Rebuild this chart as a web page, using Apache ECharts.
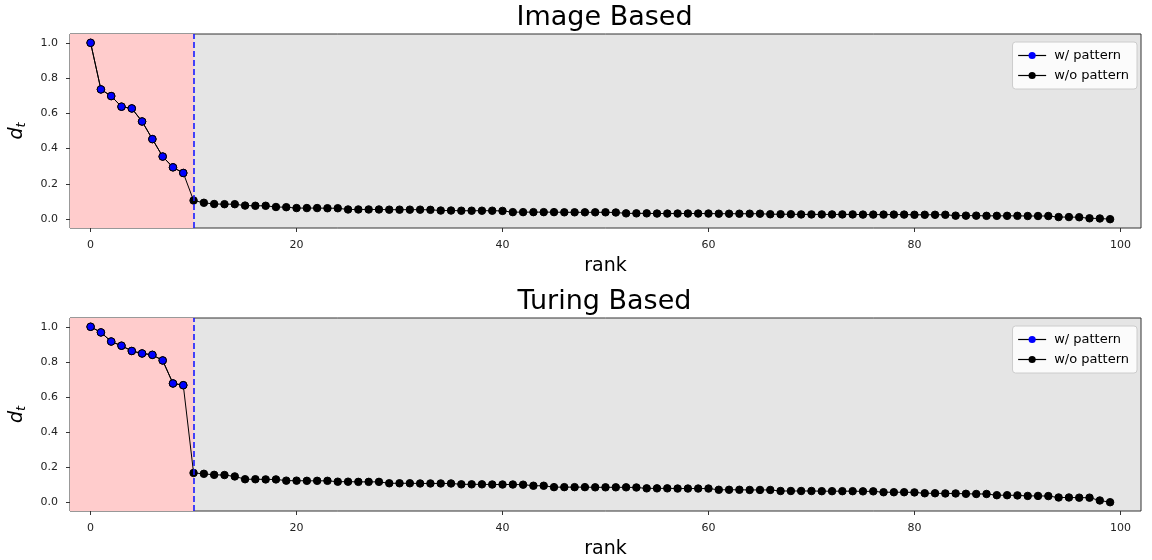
<!DOCTYPE html>
<html><head><meta charset="utf-8">
<script src="https://cdn.jsdelivr.net/npm/echarts@6/dist/echarts.min.js"></script>
<style>html,body{margin:0;padding:0;background:#fff}#c{width:1152px;height:560px}</style>
</head><body><div id="c"></div>
<script>
// ---- data ----
const titles = ['Image Based', 'Turing Based'];
const seriesNames = ['w/ pattern', 'w/o pattern'];
const patternCount = 10;   // ranks 0..9 are "w/ pattern"
const cutoffRank = 10;     // dashed blue line
const xTicks = [0, 20, 40, 60, 80, 100];
const yTicks = [0, 0.2, 0.4, 0.6, 0.8, 1.0];

const imageBased = [
  1.0, 0.736, 0.698, 0.638, 0.628, 0.554, 0.454, 0.355, 0.294, 0.262,
  0.106, 0.093, 0.086, 0.085, 0.085, 0.077, 0.076, 0.076, 0.069, 0.068,
  0.063, 0.063, 0.063, 0.062, 0.062, 0.055, 0.055, 0.055, 0.055, 0.054,
  0.054, 0.054, 0.054, 0.053, 0.049, 0.049, 0.048, 0.048, 0.048, 0.048,
  0.047, 0.040, 0.040, 0.040, 0.040, 0.040, 0.039, 0.039, 0.039, 0.039,
  0.039, 0.038, 0.033, 0.033, 0.033, 0.032, 0.032, 0.032, 0.032, 0.032,
  0.032, 0.031, 0.031, 0.031, 0.031, 0.031, 0.028, 0.028, 0.028, 0.027,
  0.027, 0.027, 0.027, 0.027, 0.027, 0.026, 0.026, 0.026, 0.026, 0.026,
  0.025, 0.025, 0.025, 0.025, 0.020, 0.020, 0.020, 0.019, 0.019, 0.019,
  0.019, 0.018, 0.018, 0.018, 0.012, 0.012, 0.011, 0.005, 0.004, 0.0
];
const turingBased = [
  1.0, 0.968, 0.916, 0.892, 0.862, 0.848, 0.840, 0.808, 0.677, 0.667,
  0.167, 0.162, 0.156, 0.155, 0.147, 0.131, 0.131, 0.130, 0.130, 0.123,
  0.123, 0.122, 0.122, 0.122, 0.117, 0.117, 0.116, 0.116, 0.116, 0.108,
  0.108, 0.108, 0.107, 0.107, 0.107, 0.107, 0.102, 0.102, 0.102, 0.101,
  0.101, 0.101, 0.100, 0.094, 0.094, 0.086, 0.086, 0.086, 0.086, 0.085,
  0.085, 0.085, 0.085, 0.084, 0.079, 0.079, 0.079, 0.078, 0.078, 0.078,
  0.078, 0.071, 0.071, 0.071, 0.070, 0.070, 0.070, 0.064, 0.064, 0.064,
  0.064, 0.063, 0.063, 0.063, 0.063, 0.062, 0.062, 0.057, 0.057, 0.057,
  0.056, 0.051, 0.051, 0.050, 0.050, 0.048, 0.047, 0.047, 0.040, 0.040,
  0.039, 0.036, 0.036, 0.035, 0.027, 0.027, 0.026, 0.026, 0.010, 0.0
];
const panels = [imageBased, turingBased];

// ---- layout ----
const FONT = 'DejaVu Sans';
const gridLeft = 68, gridWidth = 1073, gridTops = [34, 318], gridHeight = 194;
const xMin = -2, xMax = 102, yMin = -0.05, yMax = 1.05;

const option = {
  animation: false,
  textStyle: { fontFamily: FONT },
  grid: [], xAxis: [], yAxis: [], series: [], legend: [], graphic: []
};

panels.forEach((vals, p) => {
  const pts = vals.map((v, i) => [i, v]);
  option.grid.push({
    left: gridLeft, top: gridTops[p], width: gridWidth, height: gridHeight,
    show: true, backgroundColor: '#e5e5e5', borderColor: '#333', borderWidth: 1
  });
  option.xAxis.push({
    gridIndex: p, type: 'value', min: xMin, max: xMax,
    axisLine: { show: false, onZero: false },
    splitLine: { show: false },
    axisTick: { show: true, length: 4, lineStyle: { color: '#333' }, customValues: xTicks },
    axisLabel: { customValues: xTicks, fontSize: 11, color: '#222', margin: 12, fontFamily: FONT },
    name: 'rank', nameLocation: 'middle', nameGap: 29,
    nameTextStyle: { fontSize: 19, color: '#000', fontFamily: FONT }
  });
  option.yAxis.push({
    gridIndex: p, type: 'value', min: yMin, max: yMax,
    axisLine: { show: false, onZero: false },
    splitLine: { show: false },
    axisTick: { show: true, length: 4, lineStyle: { color: '#333' }, customValues: yTicks },
    axisLabel: { customValues: yTicks, fontSize: 11, color: '#222', margin: 12, fontFamily: FONT,
                 formatter: v => v.toFixed(1) },
    name: '{d|d}{t|t}', nameLocation: 'middle', nameRotate: 90, nameGap: 42,
    nameTextStyle: {
      rich: {
        d: { fontSize: 19, fontStyle: 'italic', color: '#000', fontFamily: FONT },
        t: { fontSize: 13, fontStyle: 'italic', color: '#000', fontFamily: FONT, verticalAlign: 'bottom', padding: [8, 0, 0, 0] }
      }
    }
  });
  // w/o pattern: all points, black markers
  option.series.push({
    name: seriesNames[1], type: 'line', xAxisIndex: p, yAxisIndex: p,
    data: pts, symbol: 'circle', symbolSize: 7.5, z: 3,
    lineStyle: { color: '#000', width: 1 },
    itemStyle: { color: '#000', borderColor: '#000', borderWidth: 1 },
    markArea: {
      silent: true, z: 1,
      itemStyle: { color: '#ffcccc' },
      data: [[{ xAxis: xMin }, { xAxis: cutoffRank }]]
    }
  });
  // w/ pattern: first points, blue markers
  option.series.push({
    name: seriesNames[0], type: 'line', xAxisIndex: p, yAxisIndex: p,
    data: pts.slice(0, patternCount), symbol: 'circle', symbolSize: 7.5, z: 4,
    lineStyle: { color: '#000', width: 1 },
    itemStyle: { color: '#0000ff', borderColor: '#000', borderWidth: 1 }
  });
  // dashed cutoff line
  option.series.push({
    name: 'cutoff', type: 'line', xAxisIndex: p, yAxisIndex: p, data: [], z: 6,
    markLine: {
      silent: true, symbol: ['none', 'none'], z: 6,
      label: { show: false },
      lineStyle: { color: '#1a1aff', width: 1.6, type: [6, 3] },
      data: [{ xAxis: cutoffRank }]
    }
  });
  option.legend.push({
    data: seriesNames, orient: 'vertical', right: 15, top: gridTops[p] + 8,
    backgroundColor: 'rgba(255,255,255,0.85)', borderColor: '#cccccc', borderWidth: 1, borderRadius: 3,
    padding: [6, 8, 6, 5], itemWidth: 28, itemHeight: 9, itemGap: 5,
    itemStyle: { borderWidth: 0 },
    lineStyle: { width: 1.2 },
    textStyle: { fontSize: 13, lineHeight: 15, color: '#000', fontFamily: FONT, padding: [0, 0, 0, 3] }
  });
  option.graphic.push({
    type: 'text', x: gridLeft + gridWidth / 2, y: gridTops[p] - 30,
    style: { text: titles[p], textAlign: 'center', textVerticalAlign: 'top',
             font: 'normal 27px "DejaVu Sans"', fill: '#000' }
  });
});

const chart = echarts.init(document.getElementById('c'), null, { renderer: 'canvas' });
chart.setOption(option);
</script></body></html>
